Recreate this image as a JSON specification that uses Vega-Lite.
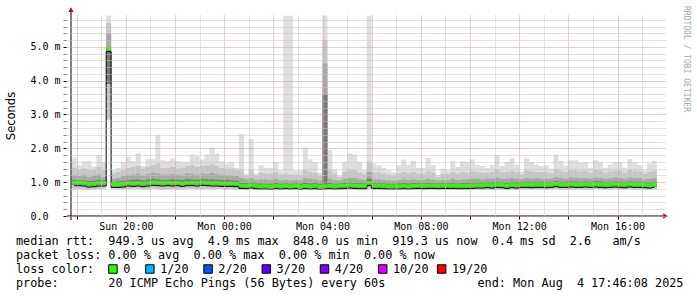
{
"$schema": "https://vega.github.io/schema/vega-lite/v6.json",
"width": 600, "height": 201,
"autosize": {"type": "none"},
"padding": {"left": 66, "top": 15, "right": 31, "bottom": 81},
"background": "#ffffff",
"config": {"view": {"stroke": null}},
"datasets": {
"smoke": [
{"m":1074,"lo":0.80,"c":0.92,"md":0.97,"d":1.06,"b":1.20,"a":1.42,"hi":1.73},
{"m":1086,"lo":0.80,"c":0.92,"md":0.97,"d":1.05,"b":1.18,"a":1.38,"hi":1.50},
{"m":1098,"lo":0.79,"c":0.91,"md":0.96,"d":1.05,"b":1.22,"a":1.40,"hi":1.62},
{"m":1110,"lo":0.78,"c":0.88,"md":0.93,"d":1.03,"b":1.15,"a":1.35,"hi":1.62},
{"m":1122,"lo":0.79,"c":0.89,"md":0.94,"d":1.04,"b":1.20,"a":1.36,"hi":1.46},
{"m":1134,"lo":0.80,"c":0.91,"md":0.96,"d":1.06,"b":1.22,"a":1.45,"hi":1.80},
{"m":1146,"lo":0.81,"c":0.91,"md":0.96,"d":1.05,"b":1.15,"a":1.38,"hi":1.60},
{"m":1158,"lo":2.85,"c":3.90,"md":4.93,"d":5.00,"b":5.40,"a":5.70,"hi":5.92},
{"m":1170,"lo":0.81,"c":0.87,"md":0.92,"d":1.00,"b":1.10,"a":1.25,"hi":1.35},
{"m":1182,"lo":0.80,"c":0.87,"md":0.92,"d":1.02,"b":1.12,"a":1.30,"hi":1.42},
{"m":1194,"lo":0.79,"c":0.88,"md":0.93,"d":1.03,"b":1.18,"a":1.35,"hi":1.60},
{"m":1206,"lo":0.80,"c":0.91,"md":0.96,"d":1.06,"b":1.20,"a":1.42,"hi":1.75},
{"m":1218,"lo":0.81,"c":0.90,"md":0.95,"d":1.07,"b":1.22,"a":1.45,"hi":1.62},
{"m":1230,"lo":0.80,"c":0.91,"md":0.96,"d":1.08,"b":1.25,"a":1.48,"hi":1.85},
{"m":1242,"lo":0.80,"c":0.89,"md":0.94,"d":1.05,"b":1.20,"a":1.40,"hi":1.48},
{"m":1254,"lo":0.79,"c":0.91,"md":0.96,"d":1.08,"b":1.24,"a":1.45,"hi":1.68},
{"m":1266,"lo":0.81,"c":0.93,"md":0.98,"d":1.10,"b":1.28,"a":1.50,"hi":1.68},
{"m":1278,"lo":0.80,"c":0.92,"md":0.97,"d":1.08,"b":1.26,"a":1.55,"hi":2.40},
{"m":1290,"lo":0.77,"c":0.91,"md":0.96,"d":1.06,"b":1.22,"a":1.42,"hi":1.65},
{"m":1302,"lo":0.79,"c":0.92,"md":0.97,"d":1.07,"b":1.22,"a":1.42,"hi":1.63},
{"m":1314,"lo":0.80,"c":0.91,"md":0.96,"d":1.08,"b":1.24,"a":1.45,"hi":1.70},
{"m":1326,"lo":0.78,"c":0.92,"md":0.97,"d":1.07,"b":1.22,"a":1.40,"hi":1.62},
{"m":1338,"lo":0.79,"c":0.90,"md":0.95,"d":1.06,"b":1.20,"a":1.42,"hi":1.60},
{"m":1350,"lo":0.80,"c":0.92,"md":0.97,"d":1.09,"b":1.26,"a":1.48,"hi":1.60},
{"m":1362,"lo":0.80,"c":0.92,"md":0.97,"d":1.08,"b":1.25,"a":1.50,"hi":1.82},
{"m":1374,"lo":0.80,"c":0.91,"md":0.96,"d":1.07,"b":1.22,"a":1.45,"hi":1.78},
{"m":1386,"lo":0.79,"c":0.93,"md":0.98,"d":1.09,"b":1.26,"a":1.48,"hi":1.67},
{"m":1398,"lo":0.80,"c":0.92,"md":0.97,"d":1.08,"b":1.24,"a":1.50,"hi":1.82},
{"m":1410,"lo":0.79,"c":0.91,"md":0.96,"d":1.08,"b":1.28,"a":1.52,"hi":2.03},
{"m":1422,"lo":0.80,"c":0.91,"md":0.96,"d":1.07,"b":1.24,"a":1.48,"hi":1.85},
{"m":1434,"lo":0.80,"c":0.90,"md":0.95,"d":1.06,"b":1.22,"a":1.42,"hi":1.62},
{"m":1446,"lo":0.79,"c":0.90,"md":0.95,"d":1.06,"b":1.20,"a":1.40,"hi":1.55},
{"m":1458,"lo":0.80,"c":0.90,"md":0.95,"d":1.05,"b":1.20,"a":1.40,"hi":1.60},
{"m":1470,"lo":0.79,"c":0.89,"md":0.94,"d":1.04,"b":1.18,"a":1.35,"hi":1.42},
{"m":1482,"lo":0.78,"c":0.84,"md":0.89,"d":0.98,"b":1.12,"a":1.35,"hi":2.42},
{"m":1494,"lo":0.78,"c":0.83,"md":0.88,"d":0.97,"b":1.08,"a":1.18,"hi":1.25},
{"m":1506,"lo":0.79,"c":0.85,"md":0.90,"d":0.99,"b":1.12,"a":1.35,"hi":2.28},
{"m":1518,"lo":0.77,"c":0.83,"md":0.88,"d":0.96,"b":1.06,"a":1.18,"hi":1.25},
{"m":1530,"lo":0.78,"c":0.82,"md":0.87,"d":0.96,"b":1.08,"a":1.28,"hi":1.50},
{"m":1542,"lo":0.78,"c":0.82,"md":0.87,"d":0.95,"b":1.08,"a":1.25,"hi":1.42},
{"m":1554,"lo":0.77,"c":0.81,"md":0.86,"d":0.95,"b":1.06,"a":1.25,"hi":1.42},
{"m":1566,"lo":0.78,"c":0.83,"md":0.88,"d":0.97,"b":1.10,"a":1.30,"hi":1.60},
{"m":1578,"lo":0.78,"c":0.82,"md":0.87,"d":0.95,"b":1.05,"a":1.22,"hi":1.35},
{"m":1590,"lo":0.78,"c":0.83,"md":0.88,"d":0.96,"b":1.06,"a":1.25,"hi":5.92},
{"m":1602,"lo":0.78,"c":0.82,"md":0.87,"d":0.95,"b":1.05,"a":1.22,"hi":5.92},
{"m":1614,"lo":0.78,"c":0.83,"md":0.88,"d":0.96,"b":1.06,"a":1.22,"hi":1.35},
{"m":1626,"lo":0.77,"c":0.81,"md":0.86,"d":0.95,"b":1.05,"a":1.20,"hi":1.35},
{"m":1638,"lo":0.78,"c":0.83,"md":0.88,"d":0.98,"b":1.12,"a":1.35,"hi":2.03},
{"m":1650,"lo":0.78,"c":0.82,"md":0.87,"d":0.96,"b":1.10,"a":1.30,"hi":1.67},
{"m":1662,"lo":0.77,"c":0.83,"md":0.88,"d":0.97,"b":1.08,"a":1.28,"hi":1.60},
{"m":1674,"lo":0.78,"c":0.81,"md":0.86,"d":0.94,"b":1.04,"a":1.18,"hi":1.28},
{"m":1686,"lo":0.78,"c":0.82,"md":0.87,"d":3.60,"b":4.50,"a":5.20,"hi":5.92},
{"m":1698,"lo":0.78,"c":0.83,"md":0.88,"d":0.97,"b":1.10,"a":1.35,"hi":1.95},
{"m":1710,"lo":0.77,"c":0.82,"md":0.87,"d":0.95,"b":1.06,"a":1.25,"hi":1.38},
{"m":1722,"lo":0.78,"c":0.83,"md":0.88,"d":0.96,"b":1.05,"a":1.15,"hi":1.20},
{"m":1734,"lo":0.78,"c":0.84,"md":0.89,"d":0.98,"b":1.10,"a":1.30,"hi":1.60},
{"m":1746,"lo":0.79,"c":0.85,"md":0.90,"d":0.99,"b":1.12,"a":1.35,"hi":1.85},
{"m":1758,"lo":0.78,"c":0.84,"md":0.89,"d":0.98,"b":1.12,"a":1.35,"hi":1.82},
{"m":1770,"lo":0.78,"c":0.83,"md":0.88,"d":0.97,"b":1.08,"a":1.28,"hi":1.60},
{"m":1782,"lo":0.78,"c":0.83,"md":0.88,"d":0.96,"b":1.06,"a":1.22,"hi":1.35},
{"m":1794,"lo":0.80,"c":0.90,"md":0.97,"d":1.10,"b":1.30,"a":1.60,"hi":5.92},
{"m":1806,"lo":0.78,"c":0.84,"md":0.89,"d":0.97,"b":1.08,"a":1.28,"hi":1.55},
{"m":1818,"lo":0.78,"c":0.84,"md":0.89,"d":0.97,"b":1.08,"a":1.28,"hi":1.50},
{"m":1830,"lo":0.77,"c":0.83,"md":0.88,"d":0.96,"b":1.06,"a":1.25,"hi":1.42},
{"m":1842,"lo":0.77,"c":0.82,"md":0.87,"d":0.95,"b":1.05,"a":1.22,"hi":1.35},
{"m":1854,"lo":0.77,"c":0.82,"md":0.87,"d":0.95,"b":1.04,"a":1.18,"hi":1.28},
{"m":1866,"lo":0.77,"c":0.82,"md":0.87,"d":0.96,"b":1.06,"a":1.25,"hi":1.50},
{"m":1878,"lo":0.78,"c":0.83,"md":0.88,"d":0.97,"b":1.08,"a":1.30,"hi":1.67},
{"m":1890,"lo":0.77,"c":0.82,"md":0.87,"d":0.96,"b":1.06,"a":1.26,"hi":1.52},
{"m":1902,"lo":0.78,"c":0.83,"md":0.88,"d":0.97,"b":1.08,"a":1.30,"hi":1.63},
{"m":1914,"lo":0.78,"c":0.84,"md":0.89,"d":0.97,"b":1.06,"a":1.25,"hi":1.42},
{"m":1926,"lo":0.77,"c":0.83,"md":0.88,"d":0.96,"b":1.06,"a":1.25,"hi":1.42},
{"m":1938,"lo":0.78,"c":0.84,"md":0.89,"d":0.98,"b":1.10,"a":1.32,"hi":1.72},
{"m":1950,"lo":0.78,"c":0.84,"md":0.89,"d":0.97,"b":1.07,"a":1.28,"hi":1.50},
{"m":1962,"lo":0.77,"c":0.83,"md":0.88,"d":0.96,"b":1.05,"a":1.15,"hi":1.22},
{"m":1974,"lo":0.78,"c":0.84,"md":0.89,"d":0.97,"b":1.06,"a":1.25,"hi":1.40},
{"m":1986,"lo":0.78,"c":0.84,"md":0.89,"d":0.97,"b":1.06,"a":1.24,"hi":1.35},
{"m":1998,"lo":0.78,"c":0.84,"md":0.89,"d":0.98,"b":1.10,"a":1.30,"hi":1.63},
{"m":2010,"lo":0.77,"c":0.83,"md":0.88,"d":0.96,"b":1.06,"a":1.25,"hi":1.45},
{"m":2022,"lo":0.78,"c":0.83,"md":0.88,"d":0.97,"b":1.08,"a":1.30,"hi":1.62},
{"m":2034,"lo":0.78,"c":0.83,"md":0.88,"d":0.97,"b":1.08,"a":1.28,"hi":1.60},
{"m":2046,"lo":0.78,"c":0.84,"md":0.89,"d":0.98,"b":1.10,"a":1.32,"hi":1.67},
{"m":2058,"lo":0.78,"c":0.85,"md":0.90,"d":0.99,"b":1.10,"a":1.30,"hi":1.52},
{"m":2070,"lo":0.78,"c":0.85,"md":0.90,"d":0.99,"b":1.08,"a":1.28,"hi":1.48},
{"m":2082,"lo":0.78,"c":0.86,"md":0.91,"d":1.00,"b":1.10,"a":1.28,"hi":1.42},
{"m":2094,"lo":0.78,"c":0.85,"md":0.90,"d":0.99,"b":1.10,"a":1.30,"hi":1.52},
{"m":2106,"lo":0.78,"c":0.87,"md":0.92,"d":1.01,"b":1.14,"a":1.36,"hi":1.80},
{"m":2118,"lo":0.79,"c":0.86,"md":0.91,"d":1.00,"b":1.10,"a":1.30,"hi":1.48},
{"m":2130,"lo":0.78,"c":0.84,"md":0.89,"d":0.98,"b":1.10,"a":1.30,"hi":1.60},
{"m":2142,"lo":0.78,"c":0.86,"md":0.91,"d":1.00,"b":1.12,"a":1.34,"hi":1.70},
{"m":2154,"lo":0.78,"c":0.85,"md":0.90,"d":0.99,"b":1.10,"a":1.30,"hi":1.52},
{"m":2166,"lo":0.79,"c":0.87,"md":0.92,"d":1.00,"b":1.08,"a":1.22,"hi":1.32},
{"m":2178,"lo":0.79,"c":0.87,"md":0.92,"d":1.01,"b":1.12,"a":1.34,"hi":1.70},
{"m":2190,"lo":0.79,"c":0.86,"md":0.91,"d":1.00,"b":1.10,"a":1.32,"hi":1.60},
{"m":2202,"lo":0.79,"c":0.87,"md":0.92,"d":1.01,"b":1.12,"a":1.30,"hi":1.52},
{"m":2214,"lo":0.79,"c":0.87,"md":0.92,"d":1.01,"b":1.10,"a":1.30,"hi":1.48},
{"m":2226,"lo":0.79,"c":0.86,"md":0.91,"d":1.00,"b":1.10,"a":1.30,"hi":1.50},
{"m":2238,"lo":0.79,"c":0.87,"md":0.92,"d":1.00,"b":1.10,"a":1.26,"hi":1.40},
{"m":2250,"lo":0.80,"c":0.89,"md":0.94,"d":1.03,"b":1.16,"a":1.38,"hi":1.82},
{"m":2262,"lo":0.79,"c":0.87,"md":0.92,"d":1.01,"b":1.12,"a":1.34,"hi":1.63},
{"m":2274,"lo":0.79,"c":0.87,"md":0.92,"d":1.01,"b":1.10,"a":1.30,"hi":1.48},
{"m":2286,"lo":0.79,"c":0.88,"md":0.93,"d":1.02,"b":1.14,"a":1.35,"hi":1.65},
{"m":2298,"lo":0.79,"c":0.87,"md":0.92,"d":1.02,"b":1.14,"a":1.35,"hi":1.65},
{"m":2310,"lo":0.79,"c":0.87,"md":0.92,"d":1.01,"b":1.12,"a":1.32,"hi":1.57},
{"m":2322,"lo":0.79,"c":0.88,"md":0.93,"d":1.02,"b":1.12,"a":1.34,"hi":1.60},
{"m":2334,"lo":0.79,"c":0.87,"md":0.92,"d":1.01,"b":1.10,"a":1.28,"hi":1.42},
{"m":2346,"lo":0.80,"c":0.88,"md":0.93,"d":1.03,"b":1.14,"a":1.36,"hi":1.65},
{"m":2358,"lo":0.79,"c":0.87,"md":0.92,"d":1.02,"b":1.12,"a":1.34,"hi":1.60},
{"m":2370,"lo":0.79,"c":0.86,"md":0.91,"d":1.00,"b":1.10,"a":1.28,"hi":1.42},
{"m":2382,"lo":0.79,"c":0.87,"md":0.92,"d":1.01,"b":1.12,"a":1.32,"hi":1.52},
{"m":2394,"lo":0.80,"c":0.88,"md":0.93,"d":1.02,"b":1.14,"a":1.34,"hi":1.60},
{"m":2406,"lo":0.79,"c":0.87,"md":0.92,"d":1.01,"b":1.12,"a":1.34,"hi":1.60},
{"m":2418,"lo":0.79,"c":0.86,"md":0.91,"d":1.00,"b":1.10,"a":1.28,"hi":1.42},
{"m":2430,"lo":0.80,"c":0.88,"md":0.93,"d":1.02,"b":1.14,"a":1.36,"hi":1.68},
{"m":2442,"lo":0.79,"c":0.87,"md":0.92,"d":1.01,"b":1.12,"a":1.34,"hi":1.60},
{"m":2454,"lo":0.79,"c":0.87,"md":0.92,"d":1.01,"b":1.12,"a":1.32,"hi":1.50},
{"m":2466,"lo":0.79,"c":0.86,"md":0.91,"d":1.00,"b":1.08,"a":1.24,"hi":1.35},
{"m":2478,"lo":0.79,"c":0.85,"md":0.90,"d":0.99,"b":1.10,"a":1.30,"hi":1.55},
{"m":2490,"lo":0.80,"c":0.87,"md":0.92,"d":1.01,"b":1.12,"a":1.34,"hi":1.63}
],
"ax": [
{"x":1056.5,"x2":2512,"y":0,"y2":0},
{"x":1066.13,"x2":1066.13,"y":-0.12,"y2":6.04}
],
"arr": [
{"x":2517,"y":0,"s":"triangle-right"},
{"x":1066.13,"y":6.1,"s":"triangle-up"}
],
"txt": [
{"col":0,"line":0,"t":"median rtt:"},
{"col":13,"line":0,"t":"949.3 us avg"},
{"col":27,"line":0,"t":"4.9 ms max"},
{"col":39,"line":0,"t":"848.0 us min"},
{"col":53,"line":0,"t":"919.3 us now"},
{"col":67,"line":0,"t":"0.4 ms sd"},
{"col":78,"line":0,"t":"2.6"},
{"col":84,"line":0,"t":"am/s"},
{"col":0,"line":1,"t":"packet loss:"},
{"col":13,"line":1,"t":"0.00 % avg"},
{"col":25,"line":1,"t":"0.00 % max"},
{"col":37,"line":1,"t":"0.00 % min"},
{"col":49,"line":1,"t":"0.00 % now"},
{"col":0,"line":2,"t":"loss color:"},
{"col":15.1,"line":2,"t":"0"},
{"col":20.3,"line":2,"t":"1/20"},
{"col":28.5,"line":2,"t":"2/20"},
{"col":36.7,"line":2,"t":"3/20"},
{"col":44.9,"line":2,"t":"4/20"},
{"col":53.1,"line":2,"t":"10/20"},
{"col":61.4,"line":2,"t":"19/20"},
{"col":0,"line":3,"t":"probe:"},
{"col":13,"line":3,"t":"20 ICMP Echo Pings (56 Bytes) every 60s"},
{"col":65,"line":3,"t":"end: Mon Aug"},
{"col":79,"line":3,"t":"4 17:46:08 2025"}
],
"sq": [
{"col":13.65,"line":2,"c":"#26ff00"},
{"col":18.85,"line":2,"c":"#00b8ff"},
{"col":27.05,"line":2,"c":"#0059ff"},
{"col":35.25,"line":2,"c":"#5e00ff"},
{"col":43.45,"line":2,"c":"#7e00ff"},
{"col":51.65,"line":2,"c":"#dd00ff"},
{"col":59.95,"line":2,"c":"#ff0000"}
],
"wm": [
{"col":94.4,"line":-13,"t":"RRDTOOL / TOBI OETIKER"}
]
},
"layer": [
{
"layer": [
{"data": {"name": "smoke"},
 "mark": {"type": "bar", "width": 5, "color": "#dedede"},
 "encoding": {
  "x": {"field": "m", "type": "quantitative",
   "scale": {"domain": [1066.13, 2506.13], "nice": false, "zero": false},
   "axis": {"values": [1080,1140,1200,1260,1320,1380,1440,1500,1560,1620,1680,1740,1800,1860,1920,1980,2040,2100,2160,2220,2280,2340,2400,2460],
    "tickCount": 200,
    "title": null, "domain": false, "grid": true, "zindex": 1,
    "gridColor": {"condition": {"test": "datum.value % 120 == 0", "value": "#e09a9a"}, "value": "#c4c4c4"},
    "gridDash": [1, 1], "gridWidth": 1,
    "ticks": true, "tickSize": 3, "tickColor": "#000000",
    "tickOpacity": {"condition": {"test": "datum.value % 120 == 0", "value": 1}, "value": 0},
    "labelExpr": "datum.value % 240 == 0 ? ((datum.value < 1440 ? 'Sun ' : 'Mon ') + format(floor(datum.value / 60) % 24, '02d') + ':00') : ''",
    "labelFont": "DejaVu Sans Mono", "labelFontSize": 10, "labelColor": "#000000",
    "labelPadding": 2, "labelOverlap": false, "labelFlush": false, "labelBound": false}},
  "y": {"field": "lo", "type": "quantitative",
   "scale": {"domain": [0, 5.94], "nice": false, "zero": false},
   "axis": {"values": [0,0.2,0.4,0.6,0.8,1,1.2,1.4,1.6,1.8,2,2.2,2.4,2.6,2.8,3,3.2,3.4,3.6,3.8,4,4.2,4.4,4.6,4.8,5,5.2,5.4,5.6,5.8],
    "tickCount": 200,
    "title": "Seconds", "titleFont": "DejaVu Sans", "titleFontSize": 11.5, "titleFontWeight": "normal", "titleColor": "#000000", "titlePadding": 14,
    "domain": false, "grid": true, "zindex": 1,
    "gridColor": {"condition": {"test": "datum.value % 1 == 0", "value": "#e09a9a"}, "value": "#c4c4c4"},
    "gridDash": [1, 1], "gridWidth": 1,
    "ticks": true, "tickSize": 3, "tickColor": "#000000",
    "tickOpacity": {"condition": {"test": "datum.value % 1 == 0", "value": 1}, "value": 0.5},
    "labelExpr": "datum.value % 1 == 0 ? (datum.value == 0 ? '0.0' : format(datum.value, '.1f') + ' m') : ''",
    "labelFont": "DejaVu Sans Mono", "labelFontSize": 10, "labelColor": "#000000",
    "labelAlign": "left", "labelBaseline": "middle", "labelPadding": 33, "labelOverlap": false, "labelBound": false, "labelFlush": false}},
  "y2": {"field": "hi"}
 }},
{"data": {"name": "smoke"},
 "mark": {"type": "bar", "width": 5, "color": "#c6c6c6"},
 "encoding": {"x": {"field": "m", "type": "quantitative"}, "y": {"field": "lo", "type": "quantitative"}, "y2": {"field": "a"}}},
{"data": {"name": "smoke"},
 "mark": {"type": "bar", "width": 5, "color": "#a8a8a8"},
 "encoding": {"x": {"field": "m", "type": "quantitative"}, "y": {"field": "c", "type": "quantitative"}, "y2": {"field": "b"}}},
{"data": {"name": "smoke"},
 "mark": {"type": "bar", "width": 5, "color": "#7a7a7a"},
 "encoding": {"x": {"field": "m", "type": "quantitative"}, "y": {"field": "c", "type": "quantitative"}, "y2": {"field": "d"}}},
{"data": {"name": "smoke"},
 "mark": {"type": "line", "interpolate": "step", "color": "#000000", "strokeWidth": 1, "yOffset": 2.5},
 "encoding": {"x": {"field": "m", "type": "quantitative"}, "y": {"field": "md", "type": "quantitative"}}},
{"data": {"name": "smoke"},
 "mark": {"type": "tick", "orient": "horizontal", "size": 5, "thickness": 3.5, "color": "#26ff00", "opacity": 1, "yOffset": -0.5},
 "encoding": {"x": {"field": "m", "type": "quantitative"}, "y": {"field": "md", "type": "quantitative"}}},
{"data": {"name": "ax"},
 "mark": {"type": "rule", "color": "#000000", "strokeWidth": 1},
 "encoding": {"x": {"field": "x", "type": "quantitative"}, "x2": {"field": "x2"}, "y": {"field": "y", "type": "quantitative"}, "y2": {"field": "y2"}}},
{"data": {"name": "arr"},
 "mark": {"type": "point", "filled": true, "size": 28, "color": "#9b1c1c", "opacity": 1},
 "encoding": {"x": {"field": "x", "type": "quantitative"}, "y": {"field": "y", "type": "quantitative"}, "shape": {"field": "s", "type": "nominal", "scale": null}}}
]
},
{
"layer": [
{"data": {"name": "txt"},
 "mark": {"type": "text", "align": "left", "baseline": "middle", "font": "DejaVu Sans Mono", "fontSize": 11.8, "color": "#000000"},
 "encoding": {
  "x": {"field": "col", "type": "quantitative", "scale": {"domain": [7.042, 91.549], "nice": false, "zero": false}, "axis": null},
  "y": {"field": "line", "type": "quantitative", "scale": {"domain": [0, 3], "range": [226, 268], "nice": false, "zero": false}, "axis": null},
  "text": {"field": "t"}}},
{"data": {"name": "sq"},
 "mark": {"type": "point", "shape": "square", "filled": true, "size": 72, "stroke": "#000000", "strokeWidth": 1, "opacity": 1},
 "encoding": {
  "x": {"field": "col", "type": "quantitative"},
  "y": {"field": "line", "type": "quantitative"},
  "fill": {"field": "c", "type": "nominal", "scale": null}}},
{"data": {"name": "wm"},
 "mark": {"type": "text", "align": "center", "baseline": "middle", "angle": 90, "font": "DejaVu Sans Mono", "fontSize": 8, "color": "#a8a8a8"},
 "encoding": {
  "x": {"field": "col", "type": "quantitative"},
  "y": {"field": "line", "type": "quantitative"},
  "text": {"field": "t"}}}
]
}
],
"resolve": {"scale": {"x": "independent", "y": "independent"}, "axis": {"x": "independent", "y": "independent"}}
}
